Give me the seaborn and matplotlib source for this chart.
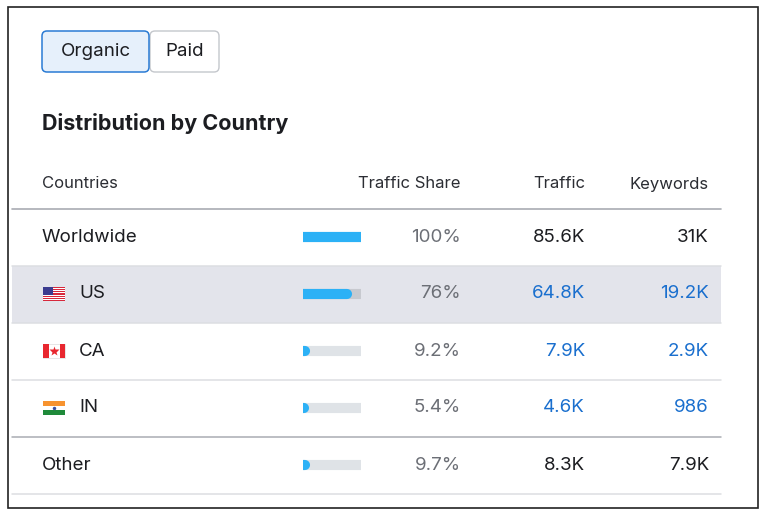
import numpy as np
import matplotlib
matplotlib.use("Agg")
import matplotlib.pyplot as plt
import matplotlib.patches as mpatches
import seaborn as sns

countries = ["Worldwide", "US", "CA", "IN", "Other"]
share = [100, 76, 9.2, 5.4, 9.7]
share_labels = ["100%", "76%", "9.2%", "5.4%", "9.7%"]
traffic = ["85.6K", "64.8K", "7.9K", "4.6K", "8.3K"]
keywords = ["31K", "19.2K", "2.9K", "986", "7.9K"]
linked = [False, True, True, True, False]
flags = [None, "us", "ca", "in", None]

W, H = 769, 516
BLUE_BAR = "#2cb1f6"
TRACK = "#dfe3e7"
LINK = "#1a6fce"
GREY = "#6c6f76"
DARK = "#1c1d21"

sns.set_theme(style="white")
plt.rcParams["font.family"] = ["Inter", "DejaVu Sans"]

fig = plt.figure(figsize=(W / 100, H / 100), dpi=100)
ax = fig.add_axes([0, 0, 1, 1])
ax.set_xlim(0, W)
ax.set_ylim(H, 0)
ax.axis("off")

# outer frame
ax.add_patch(mpatches.Rectangle((8, 7), 750, 501, fill=False, ec="#222222", lw=1.2))

# toggle buttons
ax.add_patch(mpatches.FancyBboxPatch((150, 31), 69, 41, boxstyle="round,pad=0,rounding_size=5",
                                     fc="white", ec="#c4c7cc", lw=1))
ax.add_patch(mpatches.FancyBboxPatch((42, 31), 107, 41, boxstyle="round,pad=0,rounding_size=5",
                                     fc="#e6f0fb", ec="#2a7bd4", lw=1.1))
ax.text(95.5, 52, "Organic", ha="center", va="center", fontsize=13.5, color=DARK)
ax.text(184.5, 52, "Paid", ha="center", va="center", fontsize=13.5, color=DARK)

ax.text(42, 123, "Distribution by Country", ha="left", va="center", fontsize=15.5,
        weight="bold", color=DARK)

# header
hy = 184
for x, lab, ha in [(42, "Countries", "left"), (461, "Traffic Share", "right"),
                   (585, "Traffic", "right"), (709, "Keywords", "right")]:
    ax.text(x, hy, lab, ha=ha, va="center", fontsize=12, color="#2b2d33")
ax.plot([12, 721], [208.5, 208.5], color="#a9acb3", lw=1.2)

row_h = 57
top = 208.5
for i, name in enumerate(countries):
    y0 = top + i * row_h
    yc = y0 + row_h / 2
    if name == "US":
        ax.add_patch(mpatches.Rectangle((12, y0), 709, row_h, fc="#e3e4eb", ec="none"))
    sep_col = "#a9acb3" if i == 3 else "#dcdee2"
    ax.plot([12, 721], [y0 + row_h, y0 + row_h], color=sep_col, lw=1.1)

    tx = 42
    fl = flags[i]
    if fl:
        fx, fy, fw, fh = 43, yc - 7, 22, 14
        if fl == "us":
            ax.add_patch(mpatches.Rectangle((fx, fy), fw, fh, fc="white", ec="none"))
            for s in range(7):
                ax.add_patch(mpatches.Rectangle((fx, fy + s * 2.15), fw, 1.1, fc="#d7283c", ec="none"))
            ax.add_patch(mpatches.Rectangle((fx, fy), 10, 7.5, fc="#3b3b8f", ec="none"))
        elif fl == "ca":
            ax.add_patch(mpatches.Rectangle((fx, fy), fw, fh, fc="white", ec="#dddddd", lw=0.5))
            ax.add_patch(mpatches.Rectangle((fx, fy), 5.5, fh, fc="#e8272f", ec="none"))
            ax.add_patch(mpatches.Rectangle((fx + fw - 5.5, fy), 5.5, fh, fc="#e8272f", ec="none"))
            ax.plot(fx + fw / 2, yc, marker="*", ms=7, color="#e8272f", mec="none")
        elif fl == "in":
            ax.add_patch(mpatches.Rectangle((fx, fy), fw, fh / 3, fc="#f7932f", ec="none"))
            ax.add_patch(mpatches.Rectangle((fx, fy + fh / 3), fw, fh / 3, fc="white", ec="none"))
            ax.add_patch(mpatches.Rectangle((fx, fy + 2 * fh / 3), fw, fh / 3, fc="#1f8a3a", ec="none"))
            ax.plot(fx + fw / 2, yc, marker="o", ms=2.5, color="#3a4fa0", mec="none")
        tx = 79
    ax.text(tx, yc, name, ha="left", va="center", fontsize=13.5, color=DARK)
    ax.text(461, yc, share_labels[i], ha="right", va="center", fontsize=13.5, color=GREY)
    vcol = LINK if linked[i] else DARK
    ax.text(585, yc, traffic[i], ha="right", va="center", fontsize=13.5, color=vcol)
    ax.text(709, yc, keywords[i], ha="right", va="center", fontsize=13.5, color=vcol)

# share bars (round caps add 5px each side)
bx0, bx1 = 303, 361
bax = fig.add_axes([bx0 / W, 1 - (top + 5 * row_h) / H, (bx1 - bx0) / W, 5 * row_h / H])
bax.set_xlim(0, 100)
bax.set_ylim(5, 0)
bax.axis("off")
bax.patch.set_alpha(0)
ypos = np.arange(len(countries)) + 0.5
for c, y, s in zip(countries, ypos, share):
    tcol = "#c7c9cf" if c == "US" else TRACK
    bax.plot([0, 100], [y, y], color=tcol, lw=7.3, solid_capstyle="round")
    end = s if s >= 20 else s * 0.3
    bax.plot([0, end], [y, y], color=BLUE_BAR, lw=7.3, solid_capstyle="round")

fig.savefig("out.png", dpi=100)
